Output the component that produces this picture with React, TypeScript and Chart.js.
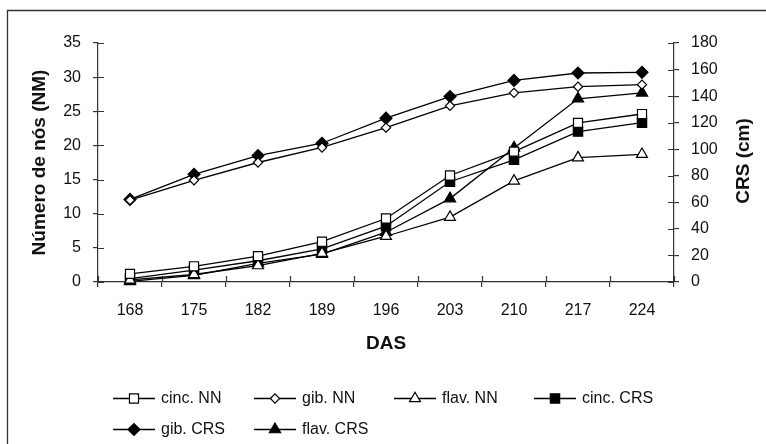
import React, { useEffect, useRef } from 'react';
import { Chart, registerables } from 'chart.js';
import { drawPoint } from 'chart.js/helpers';

Chart.register(...registerables);

const categories = ['168', '175', '182', '189', '196', '203', '210', '217', '224'];

// Left axis: Número de nós (NM)
const cincNN = [1.2, 2.3, 3.8, 5.9, 9.3, 15.6, 19.1, 23.3, 24.6];
const gibNN = [12.0, 14.9, 17.5, 19.7, 22.6, 25.8, 27.7, 28.6, 28.9];
const flavNN = [0.3, 1.1, 2.4, 4.2, 6.7, 9.5, 14.8, 18.2, 18.7];

// Right axis: CRS (cm)
const cincCRS = [2.6, 9.0, 16.0, 25.0, 42.0, 75.5, 92.0, 113.3, 120.0];
const gibCRS = [62.2, 81.1, 95.2, 104.5, 123.4, 139.7, 151.8, 157.4, 157.9];
const flavCRS = [0.5, 5.0, 14.0, 21.0, 37.5, 62.8, 101.0, 138.0, 142.5];

const leftTicks = { min: 0, max: 35, step: 5 };
const rightTicks = { min: 0, max: 180, step: 20 };

const FONT = '"Liberation Sans", Arial, Helvetica, sans-serif';
const INK = '#111';
const AXIS = '#333';

const decorPlugin = {
  id: 'decor',
  beforeDraw(chart: any) {
    const ctx = chart.ctx;
    ctx.save();
    ctx.fillStyle = '#fff';
    ctx.fillRect(0, 0, chart.width, chart.height);
    ctx.strokeStyle = AXIS;
    ctx.lineWidth = 1.3;
    ctx.beginPath();
    ctx.moveTo(7.5, chart.height + 5);
    ctx.lineTo(7.5, 10.5);
    ctx.lineTo(chart.width + 5, 10.5);
    ctx.stroke();
    ctx.restore();
  },
  beforeDatasetsDraw(chart: any) {
    const ctx = chart.ctx;
    const { left, right, bottom } = chart.chartArea;
    const inner = 6;
    ctx.save();
    ctx.strokeStyle = AXIS;
    ctx.lineWidth = 1.2;
    ctx.beginPath();
    const ys = chart.scales.y;
    ys.ticks.forEach((t: any) => {
      const py = Math.round(ys.getPixelForValue(t.value)) + 0.5;
      ctx.moveTo(left, py);
      ctx.lineTo(left + inner, py);
    });
    const y1 = chart.scales.y1;
    y1.ticks.forEach((t: any) => {
      const py = Math.round(y1.getPixelForValue(t.value)) + 0.5;
      ctx.moveTo(right, py);
      ctx.lineTo(right - inner, py);
    });
    const xs = chart.scales.x;
    for (let i = 0; i <= categories.length; i++) {
      const px = Math.round(xs.getPixelForValue(i - 0.5)) + 0.5;
      ctx.moveTo(px, bottom);
      ctx.lineTo(px, bottom - inner);
    }
    ctx.stroke();
    ctx.restore();
  },
  afterDraw(chart: any) {
    const ctx = chart.ctx;
    ctx.save();
    // right axis title
    ctx.translate(744, 161);
    ctx.rotate(-Math.PI / 2);
    ctx.font = `bold 19px ${FONT}`;
    ctx.fillStyle = INK;
    ctx.textAlign = 'center';
    ctx.textBaseline = 'middle';
    ctx.fillText('CRS (cm)', 0, 0);
    ctx.restore();

    // legend
    const cols = [113, 254, 394, 534];
    const rows = [398, 429];
    const lineLen = 42;
    chart.data.datasets.forEach((ds: any, i: number) => {
      const x0 = cols[i % 4];
      const y = rows[Math.floor(i / 4)];
      ctx.save();
      ctx.strokeStyle = ds.borderColor;
      ctx.lineWidth = ds.borderWidth;
      ctx.beginPath();
      ctx.moveTo(x0, y + 0.5);
      ctx.lineTo(x0 + lineLen, y + 0.5);
      ctx.stroke();
      ctx.fillStyle = ds.pointBackgroundColor;
      ctx.strokeStyle = ds.pointBorderColor;
      ctx.lineWidth = ds.pointBorderWidth;
      drawPoint(ctx, { pointStyle: ds.pointStyle, radius: ds.pointRadius, rotation: 0, borderWidth: ds.pointBorderWidth }, x0 + lineLen / 2, y + 0.5);
      ctx.fillStyle = INK;
      ctx.font = `16px ${FONT}`;
      ctx.textAlign = 'left';
      ctx.textBaseline = 'middle';
      ctx.fillText(ds.label, x0 + lineLen + 6, y + 1);
      ctx.restore();
    });
  },
};

export default function App() {
  const ref = useRef<HTMLCanvasElement>(null);

  useEffect(() => {
    const canvas = ref.current;
    if (!canvas) return;

    const series = [
      { label: 'cinc. NN', data: cincNN, axis: 'y', style: 'rect', fill: '#fff', r: 6.4 },
      { label: 'gib. NN', data: gibNN, axis: 'y', style: 'rectRot', fill: '#fff', r: 4.6 },
      { label: 'flav. NN', data: flavNN, axis: 'y', style: 'triangle', fill: '#fff', r: 6.3 },
      { label: 'cinc. CRS', data: cincCRS, axis: 'y1', style: 'rect', fill: '#000', r: 6.6 },
      { label: 'gib. CRS', data: gibCRS, axis: 'y1', style: 'rectRot', fill: '#000', r: 6 },
      { label: 'flav. CRS', data: flavCRS, axis: 'y1', style: 'triangle', fill: '#000', r: 6.5 },
    ];

    const datasets = series.map((s) => ({
      label: s.label,
      data: s.data,
      yAxisID: s.axis,
      borderColor: '#000',
      borderWidth: 1.3,
      pointStyle: s.style,
      pointRadius: s.r,
      pointHoverRadius: s.r,
      pointBackgroundColor: s.fill,
      pointBorderColor: '#000',
      pointBorderWidth: 1.2,
      tension: 0,
      fill: false,
      clip: false as any,
    }));

    const tickFont = { family: FONT, size: 16 };
    const titleFont = { family: FONT, size: 19, weight: 'bold' as const };

    const chart = new Chart(canvas, {
      type: 'line',
      data: { labels: categories, datasets },
      options: {
        responsive: false,
        animation: false,
        devicePixelRatio: 1,
        layout: { padding: { top: 43, left: 0, right: 0, bottom: 84 } },
        plugins: {
          legend: { display: false },
          tooltip: { enabled: false },
          title: { display: false },
        },
        events: [],
        scales: {
          x: {
            type: 'category',
            offset: true,
            grid: { offset: true, drawOnChartArea: false, drawTicks: true, tickLength: 5, color: AXIS, tickColor: AXIS, lineWidth: 1.2 },
            border: { display: true, color: AXIS, width: 1.2 },
            ticks: { font: tickFont, color: INK, padding: 14, maxRotation: 0, autoSkip: false },
            title: { display: true, text: 'DAS', font: titleFont, color: INK, padding: { top: 0, bottom: 5 } },
            afterFit: (s: any) => { s.height = 78; },
          },
          y: {
            type: 'linear',
            position: 'left',
            min: leftTicks.min,
            max: leftTicks.max,
            grid: { drawOnChartArea: false, drawTicks: true, tickLength: 5, color: AXIS, tickColor: AXIS, lineWidth: 1.2 },
            border: { display: true, color: AXIS, width: 1.2 },
            ticks: { stepSize: leftTicks.step, font: tickFont, color: INK, padding: 12 },
            title: { display: true, text: 'Número de nós (NM)', font: titleFont, color: INK, padding: { top: 28, bottom: 0 } },
            afterFit: (s: any) => { s.width = 98; },
          },
          y1: {
            type: 'linear',
            position: 'right',
            min: rightTicks.min,
            max: rightTicks.max,
            grid: { drawOnChartArea: false, drawTicks: true, tickLength: 5, color: AXIS, tickColor: AXIS, lineWidth: 1.2 },
            border: { display: true, color: AXIS, width: 1.2 },
            ticks: { stepSize: rightTicks.step, font: tickFont, color: INK, padding: 12 },
            afterFit: (s: any) => { s.width = 92; },
          },
        },
      },
      plugins: [decorPlugin],
    });

    return () => chart.destroy();
  }, []);

  return (
    <div style={{ position: 'fixed', left: 0, top: 0, width: 766, height: 444, background: '#fff' }}>
      <canvas ref={ref} width={766} height={444} style={{ display: 'block', width: 766, height: 444 }} />
    </div>
  );
}
